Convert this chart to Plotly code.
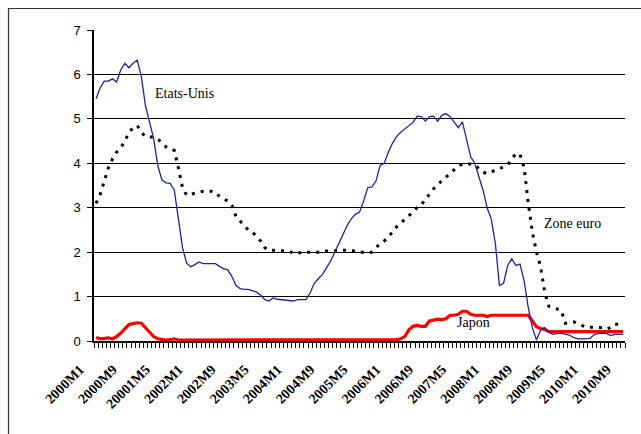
import plotly.graph_objects as go

# Monthly periods 2000M1 .. 2010M9 (129 months)
months = [f"{y}M{m}" for y in range(2000, 2011) for m in range(1, 13)][:129]

tick_positions = ["2000M1", "2000M9", "2001M5", "2002M1", "2002M9", "2003M5", "2004M1",
                  "2004M9", "2005M5", "2006M1", "2006M9", "2007M5", "2008M1", "2008M9",
                  "2009M5", "2010M1", "2010M9"]
tick_labels = ["2000M1", "2000M9", "20001M5", "2002M1", "2002M9", "2003M5", "2004M1",
               "2004M9", "2005M5", "2006M1", "2006M9", "2007M5", "2008M1", "2008M9",
               "2009M5", "2010M1", "2010M9"]

etats_unis = [
    5.45, 5.70, 5.85, 5.85, 5.90, 5.83, 6.10, 6.25, 6.15, 6.25, 6.32, 5.95,
    5.30, 4.95, 4.55, 3.95, 3.62, 3.56, 3.55, 3.40, 2.80, 2.10, 1.75, 1.67,
    1.72, 1.78, 1.74, 1.74, 1.74, 1.74, 1.68, 1.63, 1.60, 1.45, 1.25, 1.18,
    1.16, 1.16, 1.13, 1.10, 1.03, 0.93, 0.90, 0.97, 0.94, 0.93, 0.92, 0.90,
    0.90, 0.93, 0.93, 0.93, 1.08, 1.30, 1.40, 1.50, 1.65, 1.80, 2.00, 2.20,
    2.40, 2.60, 2.75, 2.85, 2.90, 3.15, 3.45, 3.47, 3.60, 3.95, 4.00, 4.25,
    4.45, 4.60, 4.70, 4.77, 4.85, 4.92, 5.06, 5.05, 4.95, 5.05, 5.06, 4.95,
    5.08, 5.12, 5.05, 4.92, 4.80, 4.93, 4.55, 4.15, 4.00, 3.70, 3.40, 3.00,
    2.75, 2.20, 1.25, 1.30, 1.70, 1.85, 1.70, 1.73, 1.35, 0.75, 0.30, 0.02,
    0.25, 0.30, 0.20, 0.15, 0.17, 0.17, 0.15, 0.13, 0.08, 0.05, 0.05, 0.05,
    0.06, 0.14, 0.17, 0.17, 0.17, 0.12, 0.15, 0.15, 0.15,
]

zone_euro = [
    3.10, 3.30, 3.60, 3.90, 4.10, 4.25, 4.35, 4.50, 4.70, 4.80, 4.85, 4.70,
    4.60, 4.60, 4.58, 4.55, 4.45, 4.37, 4.33, 4.29, 3.90, 3.45, 3.28, 3.30,
    3.32, 3.35, 3.37, 3.37, 3.37, 3.35, 3.25, 3.20, 3.15, 3.05, 2.80, 2.70,
    2.60, 2.50, 2.45, 2.35, 2.25, 2.10, 2.04, 2.04, 2.04, 2.04, 2.03, 2.02,
    1.97, 1.97, 2.00, 2.00, 2.00, 2.00, 2.00, 2.02, 2.03, 2.03, 2.03, 2.04,
    2.04, 2.04, 2.04, 2.02, 2.00, 2.00, 2.00, 2.00, 2.10, 2.19, 2.25, 2.34,
    2.45, 2.57, 2.65, 2.72, 2.82, 2.91, 3.00, 3.06, 3.20, 3.30, 3.43, 3.52,
    3.60, 3.68, 3.77, 3.85, 3.94, 3.98, 4.00, 3.98, 3.96, 3.88, 3.80, 3.77,
    3.80, 3.84, 3.88, 3.92, 3.96, 4.10, 4.22, 4.20, 3.90, 3.10, 2.45, 2.00,
    1.67, 1.10, 0.78, 0.75, 0.72, 0.69, 0.40, 0.42, 0.43, 0.40, 0.35, 0.31,
    0.31, 0.31, 0.31, 0.30, 0.27, 0.30, 0.38, 0.37, 0.37,
]

japon = [
    0.08, 0.05, 0.06, 0.07, 0.05, 0.10, 0.18, 0.27, 0.37, 0.39, 0.41, 0.40,
    0.30, 0.20, 0.10, 0.05, 0.03, 0.02, 0.03, 0.05, 0.02, 0.02, 0.02, 0.02,
    0.02, 0.02, 0.02, 0.02, 0.02, 0.02, 0.02, 0.02, 0.02, 0.02, 0.02, 0.02,
    0.02, 0.02, 0.02, 0.02, 0.02, 0.02, 0.02, 0.02, 0.02, 0.02, 0.02, 0.02,
    0.02, 0.02, 0.02, 0.02, 0.02, 0.02, 0.02, 0.02, 0.02, 0.02, 0.02, 0.02,
    0.02, 0.02, 0.02, 0.02, 0.02, 0.02, 0.02, 0.02, 0.02, 0.02, 0.02, 0.02,
    0.02, 0.03, 0.05, 0.10, 0.25, 0.33, 0.35, 0.33, 0.33, 0.45, 0.47, 0.49,
    0.48, 0.50, 0.58, 0.58, 0.60, 0.67, 0.67, 0.60, 0.58, 0.58, 0.58, 0.55,
    0.58, 0.58, 0.58, 0.58, 0.58, 0.58, 0.58, 0.58, 0.58, 0.58, 0.45, 0.32,
    0.28, 0.26, 0.21, 0.21, 0.21, 0.21, 0.21, 0.21, 0.21, 0.21, 0.21, 0.21,
    0.21, 0.21, 0.21, 0.21, 0.21, 0.21, 0.21, 0.21, 0.21,
]

idx = list(range(len(months)))
tick_idx = [months.index(m) for m in tick_positions]

fig = go.Figure()
fig.add_trace(go.Scatter(x=idx, y=japon, mode="lines", name="Japon",
                         line=dict(color="#ff0000", width=3.2)))
fig.add_trace(go.Scatter(x=idx, y=zone_euro, mode="lines", name="Zone euro",
                         line=dict(color="#000000", width=3, dash="3px,6px")))
fig.add_trace(go.Scatter(x=idx, y=etats_unis, mode="lines", name="Etats-Unis",
                         line=dict(color="#2222a0", width=1.3)))

serif = "Liberation Serif, Times New Roman, serif"

fig.update_layout(
    width=641, height=434,
    margin=dict(l=94, r=16, t=30, b=93),
    paper_bgcolor="white", plot_bgcolor="white",
    showlegend=False,
    xaxis=dict(
        range=[-0.5, len(months) - 0.5], automargin=False,
        tickmode="array", tickvals=tick_idx, ticktext=tick_labels,
        tickangle=-45, ticks="", ticklabelstandoff=13, ticklabelshift=-16,
        tickfont=dict(family=serif, size=14, color="black", weight="bold"),
        showline=True, linecolor="black", linewidth=1.5,
        showgrid=False, zeroline=False,
        minor=dict(ticks="outside", ticklen=5, tickcolor="black", tickwidth=1,
                   tick0=0.5, dtick=1, showgrid=False),
    ),
    yaxis=dict(
        range=[0, 7], dtick=1, tick0=0, automargin=False,
        ticks="outside", ticklen=5, tickcolor="black",
        tickfont=dict(family="Liberation Sans, Arial, sans-serif", size=13, color="black"),
        showline=True, linecolor="black", linewidth=1.5,
        showgrid=True, gridcolor="black", gridwidth=1,
        zeroline=False, ticklabelstandoff=4,
    ),
    font=dict(family=serif, color="black"),
)

# outer frame (extends beyond right/bottom of the picture)
fig.add_shape(type="rect", xref="paper", yref="paper",
              x0=(8.5 - 94) / 531, x1=(660 - 94) / 531,
              y0=-(460 - 340.7) / 310.7, y1=(340.7 - 8.5) / 310.7,
              line=dict(color="#333333", width=1.2), fillcolor="rgba(0,0,0,0)",
              layer="below")

anns = [("Etats-Unis", 153, 93), ("Zone euro", 542, 223), ("Japon", 455, 322)]
for text, px, py in anns:
    fig.add_annotation(text=text, xref="paper", yref="paper",
                       x=(px - 94) / 531, y=(340.7 - py) / 310.7,
                       xanchor="left", yanchor="middle", showarrow=False,
                       font=dict(family=serif, size=14, color="black"))

fig.write_html("out.html", config={"displayModeBar": False},
               post_script="document.body.style.margin='0';")
